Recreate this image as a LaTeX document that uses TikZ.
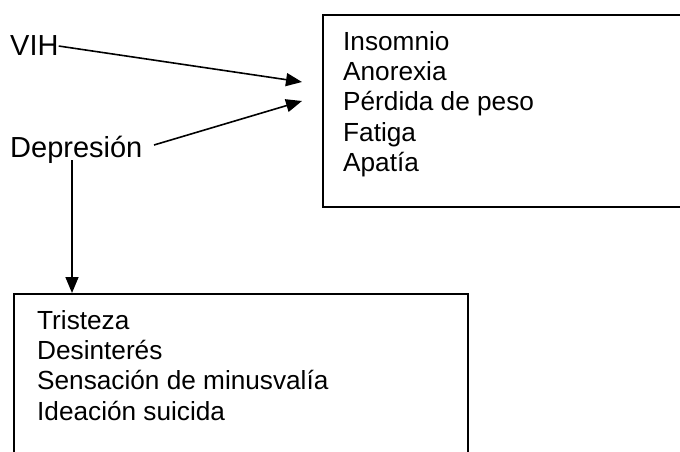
\documentclass[tikz,border=0pt]{standalone}
\usepackage{fontspec}
\setmainfont{Liberation Sans}
\usetikzlibrary{arrows.meta}
\begin{document}
\begin{tikzpicture}[x=1pt,y=-1pt,
  lbl/.style={font=\fontsize{29}{34}\selectfont, inner sep=0pt, anchor=base west},
  items/.style={font=\fontsize{26.2}{30.4}\selectfont, inner sep=0pt, anchor=base west, align=left},
  frame/.style={draw, line width=1.6pt, anchor=north west, inner sep=0pt},
  conn/.style={line width=1.6pt, -{Triangle[length=16pt,width=13pt]}}]
\clip (0,0) rectangle (680,452);
\fill[white] (0,0) rectangle (680,452);
% boxes
\node[frame, minimum width=400pt, minimum height=192pt] (sym) at (322,14) {};
\node[frame, minimum width=454pt, minimum height=200pt] (dep) at (13,293) {};
% texts (anchored at the baseline of their last line)
\node[items] (symtxt) at (343,171.6) {Insomnio\\Anorexia\\Pérdida de peso\\Fatiga\\Apatía};
\node[items] (deptxt) at (37,420.2) {Tristeza\\Desinterés\\Sensación de minusvalía\\Ideación suicida};
\node[lbl] (vih) at (10,56) {VIH};
\node[lbl] (depr) at (10,157) {Depresión};
% connector ends
\coordinate (t1) at (302,82);
\coordinate (t2) at (302,101);
\coordinate (s2) at (154,145);
\coordinate (s3) at (72,160);
\draw[conn] (vih.east) -- (t1);
\draw[conn] (s2) -- (t2);
\draw[conn] (s3) -- (s3 |- dep.north);
\end{tikzpicture}
\end{document}
